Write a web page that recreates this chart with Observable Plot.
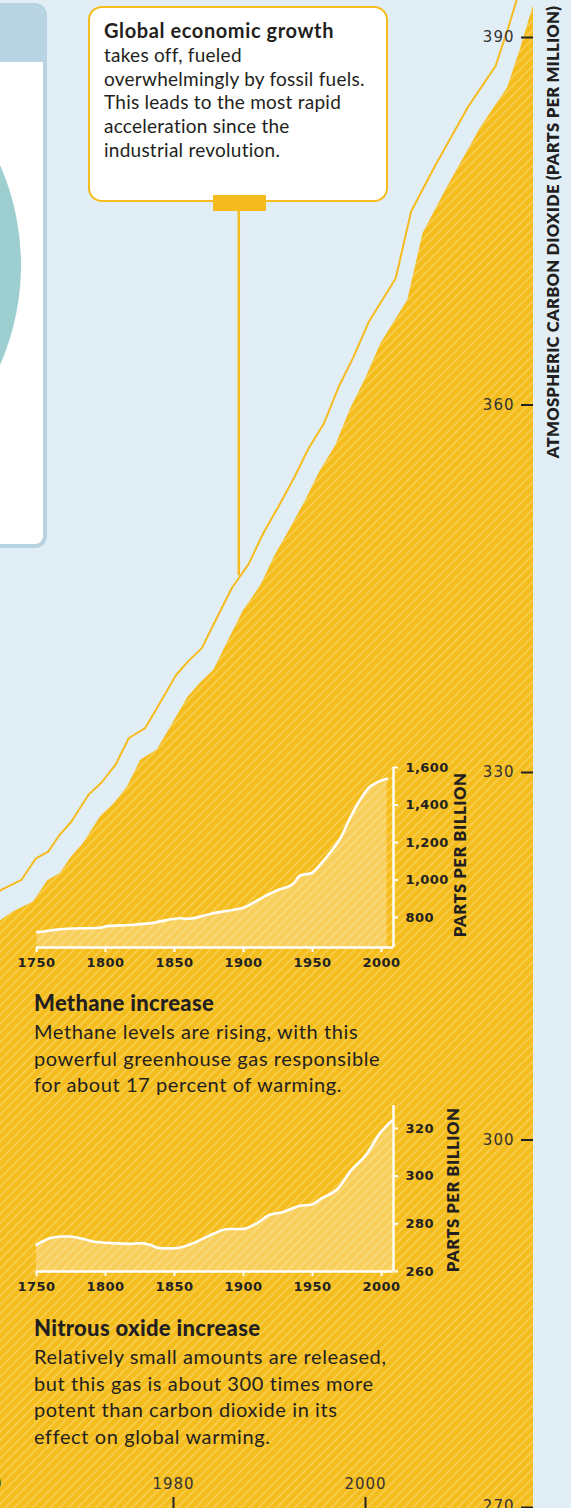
<!DOCTYPE html>
<html><head><meta charset="utf-8">
<script src="https://cdn.jsdelivr.net/npm/d3@7"></script>
<script src="https://cdn.jsdelivr.net/npm/@observablehq/plot@0.6"></script>
<style>
html,body{margin:0;padding:0;}
body{width:571px;height:1508px;overflow:hidden;background:#e2eef6;}
#root{position:relative;width:571px;height:1508px;overflow:hidden;background:#e2eef6;font-family:Lato,"Open Sans",sans-serif;color:#231f20;}
#root svg{position:absolute;left:0;}
.box-left{position:absolute;left:-20px;top:3px;width:59px;height:537px;border:4px solid #b8d3e1;border-radius:12px;background:#fff;overflow:hidden;}
.box-left .band{position:absolute;left:0;top:0;right:0;height:55px;background:#b8d3e1;}
.box-left .circle{position:absolute;left:-461px;top:9px;width:498px;height:498px;border-radius:50%;background:#9ecfd0;}
.note{position:absolute;left:88px;top:6px;width:296px;height:192px;border:2px solid #f5bb1f;border-radius:14px;background:#fff;box-sizing:content-box;}
.note-text{position:absolute;left:14px;top:11px;font-size:19px;letter-spacing:0.25px;line-height:23.8px;white-space:nowrap;}
.note-text b{font-size:20px;letter-spacing:0.6px;}
.tab{position:absolute;left:213px;top:195px;width:53px;height:16px;background:#f5bb1f;}
.rot{position:absolute;transform:translate(-50%,-50%) rotate(-90deg);white-space:nowrap;font-weight:800;color:#231f20;}
.head{position:absolute;left:34px;font-size:22px;letter-spacing:0.3px;font-weight:900;white-space:nowrap;}
.body{position:absolute;left:34px;font-size:20px;letter-spacing:0.6px;line-height:26.7px;white-space:nowrap;}
</style></head><body><div id="root"></div><script>
// ---- Main CO2 series ----
const co2Year = [1961.8, 1963.3, 1965.4, 1966.9, 1968.2, 1969.3, 1970.6, 1972.4, 1973.8, 1975.2, 1976.6, 1978.3, 1979.7, 1981.5, 1982.8, 1984.2, 1985.6, 1987.3, 1989.1, 1990.6, 1992.2, 1993.8, 1995.3, 1996.9, 1998.4, 2000.0, 2001.6, 2004.4, 2006.0, 2008.5, 2012.0, 2014.8, 2016.1, 2017.5];
const co2Ppm  = [315.4, 316.1, 316.8, 318.3, 318.8, 319.9, 320.9, 322.8, 323.7, 324.9, 326.8, 327.5, 329.1, 331.6, 332.9, 334.1, 336.6, 339.6, 341.9, 344.7, 347.2, 349.8, 352.5, 354.8, 358.1, 360.9, 363.9, 367.6, 373.3, 377.2, 382.3, 385.7, 388.9, 392.7];
const co2Ticks = [270, 300, 330, 360, 390];
// the printed axis is not evenly spaced: equivalent linear positions of each tick
const co2TickWarp = [270, 299.96, 334.73, 361.27, 390];
const co2YearTicks = [1960, 1980, 2000];
const leaderYear = [1986.8];
const leaderFrom = 342.8, leaderTo = 375.2;

// ---- Methane inset ----
const methaneYear = [1750.5, 1760, 1772, 1796, 1801, 1820, 1833, 1854, 1859, 1878, 1893, 1900, 1910, 1924, 1936, 1941, 1949, 1956, 1963, 1970, 1977.5, 1985, 1990, 1997, 2004];
const methanePpb  = [722, 731, 740, 745, 754, 761, 770, 796, 793, 823, 841, 852, 891, 944, 980, 1024, 1036, 1086, 1148, 1220, 1335, 1433, 1486, 1522, 1540];
const methaneTicks = [800, 1000, 1200, 1400, 1600];

// ---- Nitrous oxide inset ----
const n2oYear = [1750, 1760, 1768, 1774, 1791, 1805, 1818, 1826, 1832, 1839, 1849, 1857, 1870, 1878, 1889, 1899, 1910, 1919, 1928, 1941, 1949, 1957, 1968, 1978, 1989, 1999, 2008.4];
const n2oPpb  = [271.2, 274.0, 274.7, 274.7, 272.6, 271.9, 271.6, 271.9, 271.2, 269.8, 269.7, 270.5, 273.6, 275.8, 277.8, 277.8, 280.3, 283.8, 284.8, 287.6, 288.0, 290.8, 294.5, 302.4, 309.0, 318.0, 323.6];
const n2oTicks = [260, 280, 300, 320];
const insetYearTicks = [1750, 1800, 1850, 1900, 1950, 2000];

const co2 = co2Year.map((year, i) => ({year, v: co2Ppm[i]}));
const methane = methaneYear.map((year, i) => ({year, v: methanePpb[i]}));
const n2o = n2oYear.map((year, i) => ({year, v: n2oPpb[i]}));

const root = document.getElementById("root");
const YELLOW = "#f5bd1c";
const SVGNS = "http://www.w3.org/2000/svg";

function addStripes(svg, id) {
  const defs = document.createElementNS(SVGNS, "defs");
  const p = document.createElementNS(SVGNS, "pattern");
  p.setAttribute("id", id);
  p.setAttribute("patternUnits", "userSpaceOnUse");
  p.setAttribute("width", "6.4");
  p.setAttribute("height", "6.4");
  p.setAttribute("patternTransform", "rotate(45)");
  const r = document.createElementNS(SVGNS, "rect");
  r.setAttribute("x", "0.3");
  r.setAttribute("y", "0");
  r.setAttribute("width", "1.4");
  r.setAttribute("height", "6.4");
  r.setAttribute("fill", "#ffffff");
  r.setAttribute("fill-opacity", "0.28");
  p.appendChild(r);
  defs.appendChild(p);
  svg.insertBefore(defs, svg.firstChild);
}

// left decorative panel
const lb = document.createElement("div");
lb.className = "box-left";
lb.innerHTML = '<div class="band"></div><div class="circle"></div>';
root.appendChild(lb);

const yWarp = d3.scaleLinear().domain(co2Ticks).range(co2TickWarp);
const main = Plot.plot({
  width: 571, height: 1508,
  marginLeft: 533, marginRight: 0, marginTop: 0, marginBottom: 11,
  style: {background: "transparent", fontFamily: "DejaVu Sans", fontSize: "15px", color: "#333", overflow: "visible"},
  x: {domain: [1960, 2020], range: [-19, 557]},
  y: {domain: [270, 390], range: [1507, 37], transform: yWarp},
  marks: [
    Plot.areaY(co2, {x: "year", y1: 269, y2: "v", fill: YELLOW}),
    Plot.areaY(co2, {x: "year", y1: 269, y2: "v", fill: "white", fillOpacity: 0}),
    Plot.lineY(co2, {x: "year", y: "v", stroke: "#f5bb1f", strokeWidth: 2, dx: -12, dy: -22}),
    Plot.ruleX(leaderYear, {x: d => d, y1: leaderFrom, y2: leaderTo, stroke: "#f5bb1f", strokeWidth: 2.5}),
    Plot.axisY({ticks: co2Ticks, anchor: "left", tickSize: 12, tickPadding: 7, stroke: "#222", strokeWidth: 2, fill: "#333", tickFormat: d => String(d), label: null}),
    Plot.axisX({ticks: co2YearTicks, anchor: "bottom", tickSize: 11, stroke: "#222", strokeWidth: 2, tickFormat: () => "", label: null}),
    Plot.text(co2YearTicks, {x: d => d, frameAnchor: "bottom", dy: -9, text: d => String(d), fill: "#333", fontSize: 15})
  ]
});
addStripes(main, "co2stripes");
// second area layer gets the diagonal hatching
const areaGroups = main.querySelectorAll('g[aria-label="area"]');
if (areaGroups.length > 1) {
  const g = areaGroups[1];
  g.setAttribute("fill", "url(#co2stripes)");
  g.setAttribute("fill-opacity", "1");
  g.querySelectorAll("path").forEach(p => { p.setAttribute("fill", "url(#co2stripes)"); p.setAttribute("fill-opacity", "1"); });
}
main.style.top = "0px";
d3.select(main).selectAll("text").style("letter-spacing", "1px");
d3.select(main).selectAll("text").filter(function() { return this.textContent === "270"; }).attr("dy", "-0.1em");
root.appendChild(main);

function inset(data, yDomain, yTicks, fmt, top, height, mt, mb) {
  const xDomain = [1750, 2008.7];
  const svg = Plot.plot({
    width: 571, height, marginLeft: 36, marginRight: 178, marginTop: mt, marginBottom: mb,
    style: {background: "transparent", fontFamily: "DejaVu Sans", fontSize: "13px", fontWeight: "bold", color: "#222", overflow: "visible"},
    x: {domain: xDomain},
    y: {domain: yDomain},
    marks: [
      Plot.areaY(data, {x: "year", y1: yDomain[0], y2: "v", fill: "white", fillOpacity: 0.28, curve: "monotone-x"}),
      Plot.lineY(data, {x: "year", y: "v", stroke: "white", strokeWidth: 2.6, curve: "monotone-x"}),
      Plot.ruleY([yDomain[0]], {stroke: "white", strokeWidth: 2.5}),
      Plot.ruleX([xDomain[1]], {y1: yDomain[0], y2: yDomain[1], stroke: "white", strokeWidth: 2.5}),
      Plot.axisX({ticks: insetYearTicks, anchor: "bottom", tickSize: 5, tickPadding: 5, stroke: "white", strokeWidth: 2, fill: "#222", tickFormat: "d", label: null}),
      Plot.axisY({ticks: yTicks, anchor: "right", tickSize: 4, tickPadding: 8, stroke: "white", strokeWidth: 2, fill: "#222", tickFormat: fmt, label: null})
    ]
  });
  svg.style.top = top + "px";
  d3.select(svg).selectAll("text").style("letter-spacing", "0.4px");
  root.appendChild(svg);
}
inset(methane, [640, 1600], methaneTicks, d3.format(","), 740, 240, 27, 33);
inset(n2o, [260, 329.6], n2oTicks, d3.format("d"), 1080, 240, 25, 49);

function addHTML(html) {
  const t = document.createElement("div");
  t.innerHTML = html;
  while (t.firstChild) root.appendChild(t.firstChild);
}
addHTML(`
<div class="note"><div class="note-text"><b>Global economic growth</b><br>takes off, fueled<br>overwhelmingly by fossil fuels.<br>This leads to the most rapid<br>acceleration since the<br>industrial revolution.</div></div>
<div class="tab"></div>
<div class="rot" style="left:553px;top:232px;font-size:16.5px;letter-spacing:0.3px;">ATMOSPHERIC CARBON DIOXIDE (PARTS PER MILLION)</div>
<div class="rot" style="left:460px;top:855px;font-size:16.5px;letter-spacing:0.6px;">PARTS PER BILLION</div>
<div class="rot" style="left:453px;top:1190px;font-size:16.5px;letter-spacing:0.6px;">PARTS PER BILLION</div>
<div class="head" style="top:989px;">Methane increase</div>
<div class="body" style="top:1018px;">Methane levels are rising, with this<br>powerful greenhouse gas responsible<br>for about 17 percent of warming.</div>
<div class="head" style="top:1314px;">Nitrous oxide increase</div>
<div class="body" style="top:1343px;">Relatively small amounts are released,<br>but this gas is about 300 times more<br>potent than carbon dioxide in its<br>effect on global warming.</div>
`);
</script></body></html>
